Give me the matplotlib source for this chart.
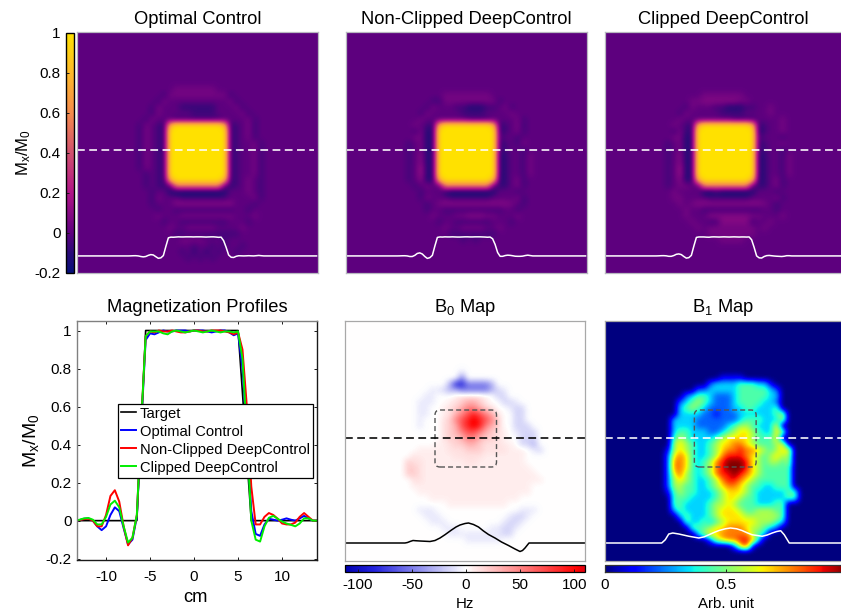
import numpy as np
import matplotlib
matplotlib.use("Agg")
import matplotlib.pyplot as plt
from matplotlib.colors import LinearSegmentedColormap, Normalize
from matplotlib.cm import ScalarMappable
from matplotlib.patches import FancyBboxPatch

plt.rcParams.update({
    "font.family": ["Liberation Sans", "DejaVu Sans"],
    "mathtext.fontset": "custom",
    "mathtext.rm": "Liberation Sans",
    "mathtext.it": "Liberation Sans",
    "mathtext.default": "rm",
    "axes.unicode_minus": False,
    "lines.scale_dashes": False,
})

W, H = 841, 611

# ---------- data ----------
x_cm = np.arange(-14, 14.01, 0.5)
target = [0,0,0,0,0,0,0,0,0,0,0,0,0,0,0,0,.5,1,1,1,1,1,1,1,1,1,1,1,1,1,1,1,1,1,1,1,1,1,1,.67,.33,0,0,0,0,0,0,0,0,0,0,0,0,0,0,0,0]
optimal = [0,0,.003,.01,.012,0,-.03,-.05,-.03,.03,.07,.05,-.04,-.125,-.10,.02,.5,.95,.985,.98,.99,1,.995,.995,1,1,1,.995,1,1,1,.995,.99,.995,1,1,.99,.975,.985,.8,.45,.05,-.07,-.08,-.02,.01,.005,0,.005,.012,.005,0,.012,.025,.012,0,0]
nonclipped = [0,0,.003,.008,.01,0,-.03,-.03,.03,.13,.16,.10,-.03,-.13,-.09,.03,.52,.97,.995,.99,1,.995,.995,1,.995,.99,.99,.995,1,1,.995,.995,1,1,1,.995,.99,.98,.99,.9,.6,.18,-.02,-.02,.02,.04,.03,.01,-.015,-.02,-.02,-.01,.02,.04,.02,0,0]
clipped = [0,0,.005,.012,.014,.005,-.02,-.02,.02,.085,.105,.07,-.03,-.115,-.09,.03,.52,.97,.995,.995,.995,.985,.98,.995,1,.995,.99,.995,1,.995,.99,.995,1,.995,.99,.995,.995,.99,.995,.85,.45,0,-.10,-.11,-.03,.015,.025,.01,-.005,-.015,-.022,-.03,-.015,.012,.012,0,0]

b0_x = [-24,-12,-11.5,-11,-10.4,-9.8,-9,-8,-7,-6,-5,-4,-2.7,-1.8,-1,0,0.7,1.7,2.7,3.7,4.7,6,7.3,8.7,10,11,11.5,12,12.8,24]
b0_hz = [0,0,1,3,5,4.5,4,3.5,3,5,10,16.6,26,32,36,39,40,37,32,24,17,10,2,-5,-12,-17,-15,-10,0,0]
b1_x = [-24,-12.7,-12,-11.3,-10.5,-9.3,-7.3,-5.3,-4.2,-3.3,-2.3,-1.3,0,1,2.2,3.3,4.3,5.3,7.3,8.3,9.3,10.2,11,11.7,12.7,24]
b1_val = [0,0,.13,.36,.4,.36,.27,.2,.25,.33,.42,.5,.57,.6,.57,.5,.41,.33,.27,.32,.4,.46,.49,.33,0,0]

opt_key = {'.':0,'a':-.05,'b':-.08,'c':-.12,'d':-.17,'1':.05,'2':.09,'3':.14,'h':.55,'8':.8,'#':1}
b0_key = {'.':0,'a':-8,'b':-16,'c':-30,'d':-50,'e':-85,'1':7,'2':12,'3':20,'4':32,'5':50,'6':70,'7':90,'8':108}

mx_optimal = [
"","","","","","","","","",
"................1111111",
"..............a1111111111a",
".............a1..........1a",
"............a1...bbbbbb...1a",
"............a1.....aaaa....1a",
"...........a1...aaaaaaaa....1a",
"..........a1.ab8########8ba.1a",
"..........a1.ab##########ba.1a",
"..........a1.ab##########ba.1a",
"..........a1.ab##########ba..1a",
"..........a1.ab##########ba..1a",
"..........a1.ab##########ba..1a",
"..........a1.ab##########ba..1a",
"..........a1.ab##########ba..1a",
"...........a.ab##########ba..1a",
"...........a.ab8########8ba.1.a",
"...........a.ab.hhhhhhhh.ba.1.a",
"............a..cddddddddc...1.a",
"............a1...aaaaaaaa....1a",
"............a...2222222222...a",
".............a..aaaaaaaaaa..a",
".............1...111111111...1",
"..............a..aaaaaaaa...a",
"...............1..11111....1",
"................aaaaaaaaaaa",
".................1111...a",
"...................a..a.a..a",
".................a.b.b.a..a",
"..................a.a.a",
]
mx_nonclipped = [
"","","","","","","","","",
"",
"................11111111",
"..............aa111111111a",
".............a1...aacccaa.1a",
"............a1.....aaaa....1",
"............1.......aaaa....1a",
"...........1.ab8########8ba.1a",
"...........a1cb##########ba.1a",
"...........11cb##########a..a",
"..........a.1cb##########ba.a1",
"..........a.1cb##########ba..a",
"..........a.2cb##########cb..a1",
"..........a.2cb##########cb..a1",
"..........a.3cb##########cb..a1",
"..........a.3cb##########cb..a1",
"..........a.2cb8########8cb.1a",
"...........a.1..hhhhhhhh.bb.1a",
"............a...cdddddddc...a",
"............a1...aaaaaaa....1a",
".............a.1222222222221.a",
".............a..aaaaaaaaaa..a",
"..............1...1122211...1",
"...............a..aaaaaa...a",
"................1..1111..1",
".................aaaaaaaa",
"...................a.a",
]
mx_clipped = [
"","","","","","","","","",
"",
"................1111111",
"..............1122222211",
".............a1...aacccaa..1",
"............a1.....aaaa....1",
"............1........aaaa....1",
"...........1.ab8########8ba..1",
"...........a1bb##########ca..1",
"...........11cb##########a...a",
"..........a.1cb##########ba..1",
"..........a.1cb##########ba..a",
"..........a.2cb##########cb..a1",
"..........a.2cb##########cb..a1",
"..........a.3cb##########cb..a1",
"..........a.3cb##########cb..a1",
"..........a.2cb8########8cb.1a",
"..........a.11..hhhhhhhh.bb.1a",
"...........1....ddcdddddc...a",
"...........11....aaaaaaa....1a",
"............1.1222222222221.a",
".............1..aaaaaaaaaa..a",
".............1...222222211...1",
"..............1..aa22222a..1",
"...............1.11111111.1",
".................11111111",
"...................1111",
]
b0_map = [
"","","","","","","","",
"...................a",
"...................d",
".................ceeddddc",
"..............aabccdddddcba",
".............aa...122221.bb",
"............aaa..1234431..bba",
"............aa..123455432..abb",
"............aa..1245676542..bb",
"............a...2356787653..bb",
"............a...2346787543..bbb",
"................23456654321.abbb",
"................23345543321..bbb",
"...............1123344322211.bbc",
"............111112223332222111.ab",
"...........2111111222221111111",
"..........32211111112211111111",
"..........332111111111111111111",
"..........3321111111111111111111",
"...........2211111111111111111111",
"...........11111111111111111111",
"............1111111111111111111",
"..............111111111111111",
".................1111111111",
"............aaa..............aaa",
".............aaa...........abba",
"..............aaa.........abba",
"................aaa.....aabba",
".................aaaaaaaaabb",
"....................aaaaaa",
]
b1_map = [
"","","","","","","","","",
"0000000000000000000111100",
"00000000000000000233334443310",
"000000000000000223333344444320",
"00000000000002344322234444433",
"00000000000023454322234444332",
"00000000000034543222233443334",
"000000000000333322122233333345",
"000000000003333222222234443335",
"00000000000333322222345543336",
"000000000003443332234566543365",
"00000000000454333345666654446",
"000000000005654334566776544456",
"0000000000156543345677877654566",
"0000000000267643345788876545655",
"0000000000277643457899986545545",
"0000000000277643457899986544444",
"0000000000267543457889876544444",
"0000000000256543345788765444444",
"0000000000255443345677654433444",
"00000000001454433345666543333344",
"00000000000444333345665443333344",
"000000000004433334556544433344",
"000000000003433334566654455544",
"000000000000343334566665555554",
"000000000000043343456666655543",
"000000000000004445667776554320",
"000000000000000356677777543",
"00000000000000000256778873",
"0000000000000000000002681",
]

y_ticks = [-0.2, 0, 0.2, 0.4, 0.6, 0.8, 1]
y_labels = ["-0.2", "0", "0.2", "0.4", "0.6", "0.8", "1"]
x_ticks = [-10, -5, 0, 5, 10]
hz_ticks = [-100, -50, 0, 50, 100]
b1_ticks = [0, 0.5]

# ---------- helpers ----------
def parse(rows, key, pad):
    rows = list(rows) + [""] * (40 - len(rows))
    assert len(rows) == 40
    return np.array([[key[c] for c in r.ljust(40, pad)[:40]] for r in rows], dtype=float)

def px_axes(l, t, r, b):
    return fig.add_axes([l / W, 1 - b / H, (r - l) / W, (b - t) / H])

def img_axes(l, t, r, b, arr, cmap, norm, edge):
    ax = px_axes(l, t, r, b)
    im = ax.imshow(arr, cmap=cmap, norm=norm, extent=[-24, 24, -24, 24],
                   interpolation="bicubic", aspect="auto", origin="upper")
    ax.set_xticks([]); ax.set_yticks([])
    for s in ax.spines.values():
        s.set_color(edge); s.set_linewidth(0.9)
    return ax, im

DASH = (0, (5.6, 3.2))
DARK = "#1a1a1a"
fig = plt.figure(figsize=(W / 100, H / 100), dpi=100)

mx_cmap = LinearSegmentedColormap.from_list("mx", [
    (0, "#06107a"), (.083, "#2a0a78"), (1 / 6, "#5f007f"), (1 / 3, "#b01488"),
    (.5, "#d0506f"), (2 / 3, "#f58a4d"), (5 / 6, "#fdb82a"), (1, "#ffe100")])
mx_norm = Normalize(-0.2, 1)
b0_cmap = LinearSegmentedColormap.from_list("b0", [(0, "#0000b0"), (.12, "#2222dd"), (112 / 222, "#ffffff"), (.97, "#ff0000"), (1, "#e00010")])
b0_norm = Normalize(-112, 110)
b1_norm = Normalize(0, 1)

# ---------- top row ----------
panels = [
    (77, 318, "Optimal Control", mx_optimal, optimal),
    (346, 587, "Non-Clipped DeepControl", mx_nonclipped, nonclipped),
    (605, 846, "Clipped DeepControl", mx_clipped, clipped),
]
for l, r, title, grid, prof in panels:
    ax, im = img_axes(l, 32, r, 273, parse(grid, opt_key, '.'), mx_cmap, mx_norm, "#b8b8c0")
    ax.axhline(0.43, color="white", lw=1.15, ls=DASH, xmin=0, xmax=0.985)
    xs = np.r_[-24, x_cm, 24]
    ys = -20.6 + 3.8 * np.r_[0, prof, 0]
    ax.plot(xs - 0.3, ys, color="white", lw=1.1)
    ax.set_xlim(-24, 24); ax.set_ylim(-24, 24)
    ax.set_title(title, fontsize=13.2, pad=5.5)
    if l == 605:
        ax.title.set_position((0.49, 1))

cax = px_axes(66, 33, 74, 273)
cb = fig.colorbar(ScalarMappable(mx_norm, mx_cmap), cax=cax)
cax.yaxis.set_ticks_position("left")
cb.set_ticks(y_ticks, labels=y_labels)
cax.tick_params(direction="in", length=2, width=0.7, labelsize=11, pad=4, color=DARK)
cb.outline.set_edgecolor("black"); cb.outline.set_linewidth(1)
cax.yaxis.set_label_position("left")
cax.set_ylabel("M$_x$/M$_0$", fontsize=12)
cax.yaxis.set_label_coords((33 - 66) / 8, 0.5)

# ---------- profiles ----------
ax = px_axes(77, 321, 317.3, 560)
ax.plot(x_cm, target, color="black", lw=1.2, label="Target")
ax.plot(x_cm, optimal, color="#0000ff", lw=1.4, label="Optimal Control")
ax.plot(x_cm, nonclipped, color="#ff0000", lw=1.4, label="Non-Clipped DeepControl")
ax.plot(x_cm, clipped, color="#00ee00", lw=1.4, label="Clipped DeepControl")
ax.set_xlim(-13.3, 14.0); ax.set_ylim(-0.207, 1.05)
ax.set_xticks(x_ticks, labels=[str(v) for v in x_ticks])
ax.set_yticks(y_ticks, labels=y_labels)
ax.tick_params(direction="in", length=2.2, width=0.7, labelsize=11, top=True, right=True, pad=4, color=DARK)
ax.tick_params(axis="x", pad=7.5)
for k, c in (("left", "#808080"), ("top", "#808080"), ("right", DARK), ("bottom", DARK)):
    ax.spines[k].set_color(c); ax.spines[k].set_linewidth(1)
ax.set_title("Magnetization Profiles", fontsize=13.2, pad=6.5)
ax.set_xlabel("cm", fontsize=13.2)
ax.xaxis.set_label_coords((196 - 77) / 240.3, -(589 - 560) / 239)
ax.set_ylabel("M$_x$/M$_0$", fontsize=14)
ax.yaxis.set_label_coords((41 - 77) / 240.3, 0.5)
leg = ax.legend(loc="upper left", bbox_to_anchor=((117.7 - 77) / 240.3, 1 - (403.7 - 321) / 239),
                fontsize=10.6, frameon=True, fancybox=False, framealpha=1, edgecolor="black",
                handlelength=1.05, handletextpad=0.25, labelspacing=0.27, borderpad=0.2, borderaxespad=0)
leg.get_frame().set_linewidth(0.9)

# ---------- B0 ----------
ax, im = img_axes(345, 321, 585, 561, parse(b0_map, b0_key, '.'), b0_cmap, b0_norm, "#a8a8a8")
ax.axhline(0.66, color="black", lw=1.15, ls=DASH)
ax.plot(b0_x, -20.4 + 0.1 * np.array(b0_hz), color="black", lw=1.1)
ax.add_patch(FancyBboxPatch((-6, -5.2), 12.3, 11.4, boxstyle="round,pad=0,rounding_size=1",
                            fc="none", ec="#555555", lw=1.0, ls=(0, (3.6, 2.2))))
ax.set_xlim(-24, 24); ax.set_ylim(-24, 24)
ax.set_title("B$_0$ Map", fontsize=13.2, pad=6.5)

cax = px_axes(345, 564.5, 585, 572)
cb = fig.colorbar(ScalarMappable(b0_norm, b0_cmap), cax=cax, orientation="horizontal")
cb.set_ticks(hz_ticks, labels=[str(v) for v in hz_ticks])
cax.tick_params(direction="in", length=2, width=0.7, labelsize=11, pad=4.5, color=DARK)
cb.outline.set_edgecolor("black"); cb.outline.set_linewidth(0.9)
cax.set_xlabel("Hz", fontsize=10.8)
cax.xaxis.set_label_coords(0.5, -(597 - 572) / 7.5)

# ---------- B1 ----------
ax, im = img_axes(605, 321, 846, 561, parse(b1_map, {str(i): i / 9 for i in range(10)}, '0'), "jet", b1_norm, "#a8a8a8")
ax.axhline(0.66, color="white", lw=1.15, ls=DASH)
ax.plot(b1_x, -20.4 + 5 * np.array(b1_val), color="white", lw=1.1)
ax.add_patch(FancyBboxPatch((-6.2, -5.2), 12.3, 11.4, boxstyle="round,pad=0,rounding_size=1",
                            fc="none", ec="#555555", lw=1.0, ls=(0, (3.6, 2.2))))
ax.set_xlim(-24, 24); ax.set_ylim(-24, 24)
ax.set_title("B$_1$ Map", fontsize=13.2, pad=6.5)
ax.title.set_position((0.49, 1))

cax = px_axes(605, 564.5, 846, 572)
cb = fig.colorbar(ScalarMappable(b1_norm, "jet"), cax=cax, orientation="horizontal")
cb.set_ticks(b1_ticks, labels=["0", "0.5"])
cax.tick_params(direction="in", length=2, width=0.7, labelsize=11, pad=4.5, color=DARK)
cb.outline.set_edgecolor("#333333"); cb.outline.set_linewidth(0.9)
cax.set_xlabel("Arb. unit", fontsize=10.8)
cax.xaxis.set_label_coords(0.5, -(597 - 572) / 7.5)

fig.savefig("out.png", dpi=100)
